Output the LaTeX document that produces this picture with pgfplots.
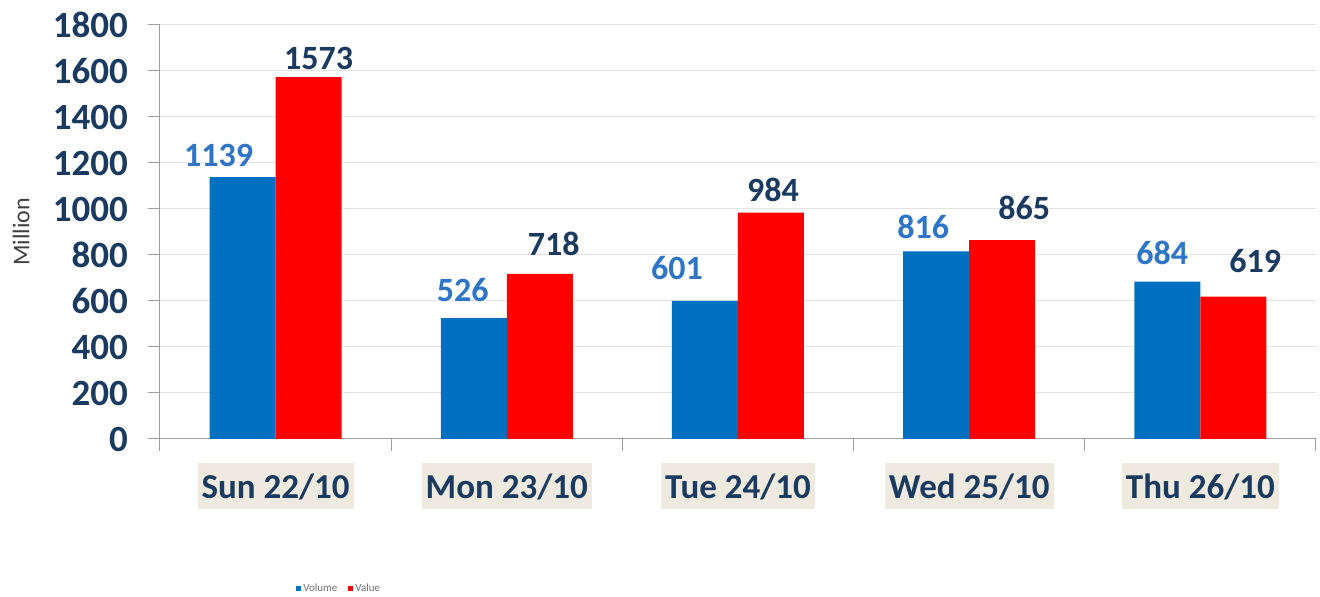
\documentclass[border=0pt]{standalone}
\usepackage{pgfplots}
\pgfplotsset{compat=1.18}
\usepackage{fontspec}
\setmainfont{Carlito}
\definecolor{barblue}{HTML}{0070C0}
\definecolor{barred}{HTML}{FF0000}
\definecolor{navy}{HTML}{1B3A60}
\definecolor{lblblue}{HTML}{2E75C8}
\definecolor{beige}{HTML}{EEEAE0}
\begin{document}
\begin{tikzpicture}
\useasboundingbox (0,0) rectangle (1320pt,597pt);
\begin{axis}[
  at={(160pt,158pt)}, anchor=south west,
  scale only axis, width=1156pt, height=414pt,
  ybar=0pt, bar width=66pt,
  xmin=-0.5, xmax=4.5, ymin=0, ymax=1800,
  xtick={0,...,4},
  xticklabels={Sun 22/10, Mon 23/10, Tue 24/10, Wed 25/10, Thu 26/10},
  minor xtick={-0.5,0.5,...,4.5},
  ytick={0,200,...,1800},
  minor ytick={0,200,...,1800},
  major tick length=0pt, minor tick length=12pt,
  tick align=outside,
  axis lines*=left,
  axis line style={gray!75, line width=1pt},
  every tick/.style={gray!75, line width=1pt},
  ymajorgrids, grid style={gray!22, line width=1pt},
  /pgf/number format/assume math mode=true,
  /pgf/number format/1000 sep={},
  yticklabel style={font=\bfseries\fontsize{37}{40}\selectfont, text=navy, anchor=east, inner sep=0pt, xshift=-32pt},
  xticklabel style={font=\bfseries\fontsize{35}{38}\selectfont, text=navy, anchor=north, fill=beige,
     inner xsep=4pt, inner ysep=11pt, text height=24pt, text depth=0pt, yshift=-24pt},
  ylabel={Million},
  every axis y label/.style={at={(axis description cs:-0.1202,0.5)}, rotate=90, anchor=center,
     font=\fontsize{24}{26}\selectfont, text=black!75},
  legend style={at={(axis description cs:0.155,-0.362)}, anchor=center, draw=none, fill=none,
     legend columns=2, font=\fontsize{11}{12}\selectfont, text=black!55,
     /tikz/every even column/.append style={column sep=9pt}},
  legend image code/.code={\fill[#1,draw=none] (0pt,-2.5pt) rectangle (5pt,2.5pt);},
  nodes near coords,
  every node near coord/.append style={font=\bfseries\fontsize{34}{36}\selectfont, anchor=south, inner sep=0pt},
  visualization depends on={value \thisrow{dx} \as \dx},
  visualization depends on={value \thisrow{dy} \as \dy},
]
\addplot[fill=barblue, draw=none, nodes near coords style={text=lblblue, xshift=\dx pt, yshift=\dy pt}]
  table[x=x, y=y] {
x y dx dy
0 1139 -24 10
1 526 -11 16
2 601 -28 21
3 816 -13 12
4 684 -5 17
};
\addlegendentry{Volume}
\addplot[fill=barred, draw=none, nodes near coords style={text=navy, xshift=\dx pt, yshift=\dy pt}]
  table[x=x, y=y] {
x y dx dy
0 1573 10 7
1 718 14 18
2 984 2 11
3 865 22 20
4 619 22 24
};
\addlegendentry{Value}
\end{axis}
\end{tikzpicture}
\end{document}
